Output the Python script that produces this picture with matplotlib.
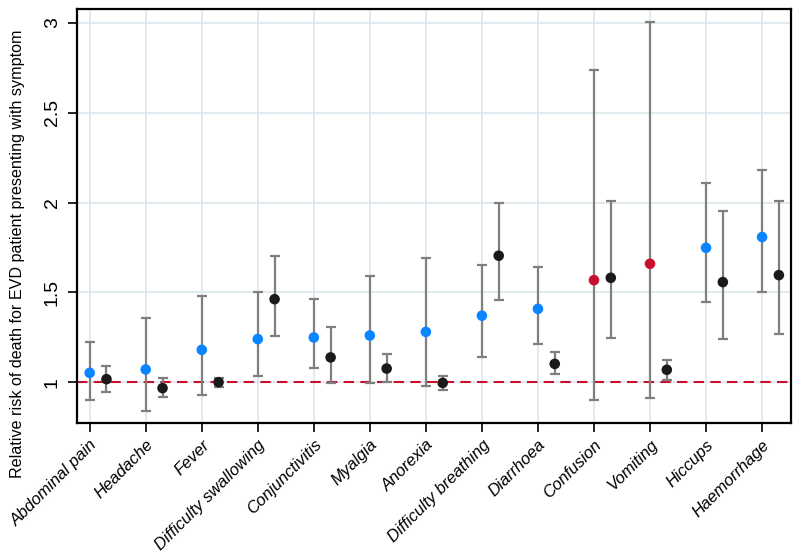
import numpy as np
import matplotlib
matplotlib.use('Agg')
import matplotlib.pyplot as plt

plt.rcParams['font.family'] = ['Liberation Sans', 'DejaVu Sans']

symptoms = ['Abdominal pain', 'Headache', 'Fever', 'Difficulty swallowing',
            'Conjunctivitis', 'Myalgia', 'Anorexia', 'Difficulty breathing',
            'Diarrhoea', 'Confusion', 'Vomiting', 'Hiccups', 'Haemorrhage']

# first estimate (coloured points)
rr1 = [1.052, 1.071, 1.180, 1.240, 1.249, 1.260, 1.280, 1.370, 1.408, 1.568, 1.659, 1.748, 1.808]
lo1 = [0.901, 0.842, 0.931, 1.032, 1.080, 0.993, 0.980, 1.139, 1.210, 0.901, 0.911, 1.449, 1.500]
hi1 = [1.221, 1.360, 1.481, 1.500, 1.461, 1.591, 1.693, 1.650, 1.639, 2.738, 3.006, 2.109, 2.179]
red1 = [False] * 9 + [True, True, False, False]

# second estimate (black points)
rr2 = [1.017, 0.967, 1.000, 1.462, 1.138, 1.076, 0.996, 1.704, 1.102, 1.581, 1.069, 1.557, 1.596]
lo2 = [0.948, 0.915, 0.974, 1.258, 0.993, 1.000, 0.955, 1.457, 1.045, 1.245, 1.015, 1.243, 1.269]
hi2 = [1.089, 1.022, 1.026, 1.700, 1.306, 1.158, 1.037, 1.995, 1.167, 2.008, 1.124, 1.953, 2.008]

blue = '#0A84FF'
red = '#C8102E'
grey = '#7F7F7F'

fig = plt.figure(figsize=(8, 5.51), dpi=100)
ax = fig.add_axes([0.096, 0.232, 0.893, 0.752])

x = np.arange(len(symptoms))
rr1 = np.array(rr1); lo1 = np.array(lo1); hi1 = np.array(hi1)
rr2 = np.array(rr2); lo2 = np.array(lo2); hi2 = np.array(hi2)
x2 = x + 0.3

ax.axhline(1, color=red, ls=(0, (5, 3)), lw=1.5, zorder=2)

ax.errorbar(x, rr1, yerr=[rr1 - lo1, hi1 - rr1], fmt='none', ecolor=grey,
            elinewidth=1.6, capsize=3.6, capthick=1.6, zorder=3)
ax.errorbar(x2, rr2, yerr=[rr2 - lo2, hi2 - rr2], fmt='none', ecolor=grey,
            elinewidth=1.6, capsize=3.6, capthick=1.6, zorder=3)

cols = [red if r else blue for r in red1]
ax.scatter(x, rr1, s=58, c=cols, zorder=4, edgecolors='none')
ax.scatter(x2, rr2, s=58, c='#1A1A1A', zorder=4, edgecolors='none')

ax.set_xlim(-0.23, 12.52)
ax.set_ylim(0.772, 3.078)
ax.set_xticks(x)
ax.set_xticklabels(symptoms, rotation=45, ha='right', rotation_mode='anchor',
                   style='italic', fontsize=12)
ax.set_yticks([1, 1.5, 2, 2.5, 3])
ax.set_yticklabels(['1', '1.5', '2', '2.5', '3'], rotation=90, va='center', fontsize=14)
ax.set_ylabel('Relative risk of death for EVD patient presenting with symptom', fontsize=11.6)
ax.yaxis.set_label_coords(-0.073, 0.41)

ax.grid(True, color='#DCE6EC', lw=1.2, zorder=0)
ax.set_axisbelow(True)
for s in ax.spines.values():
    s.set_linewidth(1.6)
    s.set_color('black')
ax.tick_params(axis='both', length=6.5, width=1.2)
ax.tick_params(axis='y', pad=5)

fig.savefig('out.png', dpi=100)
